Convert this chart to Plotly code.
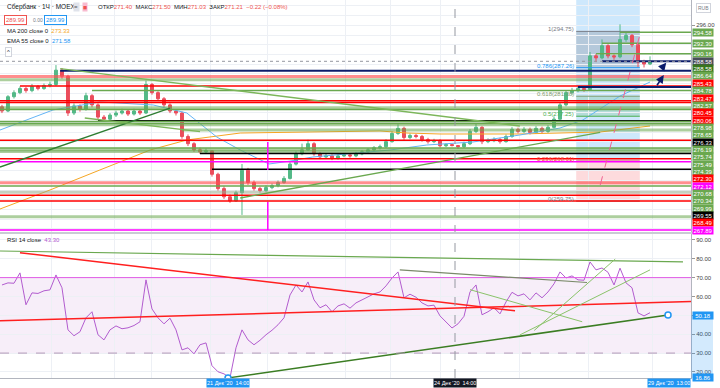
import plotly.graph_objects as go

# ---------------- data ----------------
first_open = 279.2
closes = [
    278.33, 281.28, 282.12, 282.96, 282.54, 283.38, 282.96, 283.59, 283.80, 286.75,
    285.49, 277.91, 279.38, 278.75, 281.49, 279.59, 277.07, 276.65, 277.49, 277.91,
    278.33, 277.70, 278.33, 277.91, 283.80, 282.12, 280.86, 279.59, 278.33, 277.91,
    273.07, 271.59, 270.33, 269.91, 270.12, 265.28, 262.33, 260.64, 259.80, 261.49,
    266.12, 263.59, 262.33, 261.91, 262.54, 262.96, 263.59, 264.43, 267.38, 269.49,
    270.33, 271.59, 269.49, 268.86, 269.07, 268.64, 269.07, 269.28, 269.07, 269.49,
    269.91, 270.33, 270.75, 270.96, 272.01, 273.70, 274.75, 272.86, 273.28, 273.07,
    272.43, 272.01, 272.22, 271.17, 271.40, 271.21, 270.96, 271.59, 274.12, 274.96,
    272.01, 272.22, 272.43, 272.01, 273.07, 274.54, 274.12, 274.54, 273.91, 274.75,
    274.12, 274.96, 276.65, 279.59, 282.12, 282.54, 282.96, 282.75, 289.70, 289.28,
    291.80, 289.70, 289.49, 293.07, 293.91, 292.01, 288.43, 288.01, 288.58]
highs = [
    279.6, 281.6, 282.6, 283.4, 283.3, 283.9, 283.7, 284.0, 284.4, 287.8,
    287.2, 285.8, 279.9, 279.7, 282.1, 281.8, 279.9, 277.5, 277.9, 278.4,
    278.8, 278.7, 278.8, 278.6, 284.6, 284.1, 282.4, 281.2, 279.9, 278.7,
    278.2, 273.5, 271.9, 270.8, 270.6, 270.3, 265.6, 262.8, 261.1, 261.9,
    267.4, 266.6, 264.0, 262.7, 263.0, 263.4, 264.0, 264.9, 267.8, 270.0,
    271.6, 272.4, 271.9, 269.9, 269.5, 269.4, 269.5, 269.7, 269.6, 269.9,
    270.3, 270.7, 271.1, 271.4, 272.5, 274.2, 275.6, 275.1, 273.7, 273.6,
    273.4, 272.8, 272.6, 272.5, 271.7, 271.50, 271.3, 272.0, 274.6, 275.8,
    275.2, 272.7, 272.9, 272.8, 273.5, 275.0, 274.9, 275.0, 274.9, 275.2,
    275.1, 275.4, 277.2, 280.1, 282.6, 283.1, 283.4, 283.3, 290.5, 290.1,
    293.1, 292.1, 290.0, 296.2, 294.6, 294.2, 292.4, 288.9, 289.6]
lows = [
    277.9, 278.1, 280.9, 281.8, 282.1, 282.2, 282.6, 282.7, 283.2, 283.5,
    285.0, 277.3, 277.5, 278.2, 278.4, 279.1, 276.6, 276.2, 276.3, 277.1,
    277.6, 277.3, 277.4, 277.5, 277.7, 281.7, 280.4, 279.1, 277.9, 277.4,
    272.6, 271.1, 269.9, 269.5, 269.6, 264.8, 261.9, 260.2, 259.4, 259.6,
    256.9, 263.1, 261.9, 261.5, 261.6, 262.2, 262.6, 263.3, 264.2, 267.1,
    269.2, 270.1, 269.1, 268.4, 268.5, 268.2, 268.3, 268.8, 268.7, 268.8,
    269.2, 269.6, 270.0, 270.4, 270.7, 271.8, 273.4, 272.4, 272.5, 272.7,
    272.0, 271.6, 271.7, 270.8, 270.9, 271.03, 270.5, 270.7, 271.3, 273.8,
    271.5, 271.7, 271.9, 271.6, 271.8, 272.8, 273.7, 273.8, 273.5, 273.6,
    273.7, 273.8, 274.7, 276.3, 279.3, 281.7, 282.2, 282.3, 282.5, 288.4,
    289.0, 289.2, 288.9, 289.2, 292.6, 291.5, 287.4, 287.3, 287.8]
opens = [first_open] + closes[:-1]
bars = list(range(len(closes)))

rsi_values = [
    66.1, 67.2, 67.0, 72.5, 55.6, 61.9, 61.6, 63.0, 63.5, 71.4,
    64.6, 42.3, 39.2, 41.3, 48.7, 51.9, 39.7, 37.0, 42.3, 44.4,
    42.9, 43.4, 44.6, 46.6, 68.8, 53.4, 48.7, 45.5, 48.5, 42.3,
    31.7, 32.8, 29.6, 34.4, 35.4, 23.3, 20.1, 19.0, 16.86, 32.8,
    42.3, 37.0, 34.4, 36.8, 39.7, 42.1, 45.0, 48.7, 60.8, 66.1,
    62.4, 67.7, 58.2, 54.0, 55.6, 51.9, 55.0, 56.1, 53.8, 56.6,
    58.2, 59.8, 61.4, 62.4, 65.6, 69.8, 73.0, 59.3, 61.2, 59.6,
    56.6, 55.0, 55.4, 49.7, 46.6, 43.30, 45.5, 49.5, 62.4, 66.1,
    50.3, 51.9, 54.0, 50.8, 57.1, 62.2, 60.3, 61.4, 58.2, 61.9,
    59.3, 62.4, 66.7, 73.0, 69.8, 70.9, 68.8, 68.6, 78.3, 74.1,
    75.1, 72.8, 66.1, 75.0, 67.2, 64.6, 51.3, 49.7, 51.4]

ema55_bars = [-0.33, 8.5, 16.3, 25.2, 30.8, 35.8, 39.7, 44.5, 48.0, 51.8,
              59.2, 64.7, 70.8, 78.5, 86.3, 93.0, 96.8, 103.0, 108.0]
ema55_values = [274.41, 278.54, 280.19, 279.57, 277.92, 272.97, 270.29, 267.4, 268.0, 268.85,
                269.67, 270.29, 271.32, 271.94, 273.38, 274.82, 276.47, 281.42, 284.31]
ma200_bars = [-0.33, 8, 16.3, 24.7, 30.8, 39.7, 63, 67.5, 73, 86.3, 99.7, 108]
ma200_values = [258.12, 262.04, 266.16, 270.29, 272.35, 273.79, 274.21, 273.79, 273.59, 273.59, 274.0, 275.24]

# horizontal levels drawn on the price pane
level_prices = [294.58, 292.30, 290.16, 288.58, 286.64, 285.43, 284.78, 283.47, 283.30, 282.57,
                280.45, 280.06, 278.98, 278.65, 276.33, 276.19, 275.74, 275.49, 274.39, 272.30,
                270.68, 270.34, 269.99, 269.55, 268.49, 267.89, 266.31, 263.55, 262.87, 261.57,
                260.95, 259.77, 256.54, 253.80]
level_start_bars = [103, 100, 99, 100, 9.7, None, None, 3, 96, 15,
                    None, None, None, None, 16, None, None, None, 30, None,
                    None, None, None, 33, None, None, 35, None, None, None,
                    None, None, None, None]
level_kinds = ["g", "g", "g", "navy", "navy", "rl", "gl", "r", "navy", "g",
               "r", "r", "gl", "g", "k", "g", "g", "gl", "gl", "r",
               "g", "gl", "gl", "k", "r", "m", "k", "rl", "g", "grey",
               "r", "r", "gl", "m"]

# price-scale badges
badge_values = [294.58, 292.30, 290.16, 288.58, 288.58, 286.64, 285.43, 284.78, 283.47, 282.57,
                280.45, 280.06, 278.98, 278.65, 276.33, 276.19, 275.74, 275.49, 274.39, 272.30,
                272.12, 270.68, 270.34, 269.99, 269.55, 268.49, 267.89]
badge_kinds = ["g", "g", "g", "last", "dg", "g", "r", "g", "r", "g",
               "r", "r", "g", "g", "k", "g", "g", "g", "g", "r",
               "m", "g", "g", "g", "k", "r", "m"]

# price trend lines: (bar0, price0, bar1, price1)
price_trends = [
    (-0.33, 266.78, 28.0, 278.93),
    (39.7, 260.39, 99.7, 273.92),
    (9.7, 287.09, 86.3, 275.24),
    (13.8, 276.89, 33.0, 274.06),
]
pink_trend = (99.7, 263.07, 106.3, 294.0)
magenta_marks = [(44.3, 271.94, 266.16), (44.3, 259.57, 253.80)]

# Fibonacci retracement
fib_low, fib_high = 259.75, 294.75
fib_ratios = [1, 0.786, 0.618, 0.5, 0.236, 0]
fib_bar_start, fib_bar_end = 95.7, 106.3

# RSI trend lines
rsi_trends = [
    (-0.33, 84.1, 113.5, 78.3, "#6aa84f", 1.2),
    (3.0, 83.2, 85.5, 52.4, "#ff1f1f", 1.5),
    (-0.33, 47.1, 114.83, 57.3, "#ff1f1f", 1.5),
    (66.3, 74.1, 97.5, 67.4, "#7a8a6a", 1.2),
    (88.7, 42.0, 102.2, 79.8, "#8bc36a", 1.0),
    (86.3, 39.6, 108.0, 74.1, "#8bc36a", 1.0),
    (78.0, 63.6, 96.7, 46.6, "#8bc36a", 1.0),
]
rsi_support = ([37.67, 111.0], [16.86, 50.18])

crosshair_bar = 75.5
last_price = 288.58

# ---------------- layout helpers ----------------
W, H = 720, 388
ML, MR, MT, MB = 0, 29, 0, 10
PW, PH = W - ML - MR, H - MT - MB
X_MIN, X_MAX = -0.33, 114.83
P_TOP, P_BOT = 301.22, 253.38
R_TOP, R_BOT = 93.1, 16.8
PRICE_PX = 232
RSI_TOP_PX = 234

def py_price(p):
    return (P_TOP - p) / (P_TOP - P_BOT) * PRICE_PX

def paper_y(px):
    return 1 - px / PH

def paper_x(px):
    return px / PW

FONT = "Liberation Sans, Arial, sans-serif"
colors = {"g": "#6aa84f", "gl": "rgba(106,168,79,0.55)", "r": "#ff0000",
          "rl": "rgba(255,82,82,0.65)", "navy": "#0b1c6b", "k": "#000000",
          "m": "#ff00ff", "grey": "rgba(150,170,140,0.55)"}
widths = {"g": 1.5, "gl": 3, "r": 1.5, "rl": 3, "navy": 2, "k": 1.5, "m": 1.5, "grey": 3}
badge_colors = {"g": "#6aa84f", "dg": "#38761d", "r": "#ff0000", "k": "#000000",
                "m": "#ff00ff", "last": "#4a4e5a"}

fig = go.Figure()

fig.add_trace(go.Candlestick(
    x=bars, open=opens, high=highs, low=lows, close=closes,
    increasing=dict(line=dict(color="#53b987", width=1), fillcolor="#53b987"),
    decreasing=dict(line=dict(color="#eb4d5c", width=1), fillcolor="#eb4d5c"),
    whiskerwidth=0, showlegend=False, hoverinfo="skip", xaxis="x", yaxis="y"))

fig.add_trace(go.Scatter(x=ma200_bars, y=ma200_values, mode="lines",
                         line=dict(color="#f5a623", width=1), showlegend=False,
                         xaxis="x", yaxis="y"))
fig.add_trace(go.Scatter(x=ema55_bars, y=ema55_values, mode="lines",
                         line=dict(color="#64b5f6", width=1), showlegend=False,
                         xaxis="x", yaxis="y"))

shapes = []
annotations = []

# fib zone backgrounds
fib_price = [fib_low + r * (fib_high - fib_low) for r in fib_ratios]
shapes.append(dict(type="rect", xref="x", yref="y", x0=fib_bar_start, x1=fib_bar_end,
                   y0=fib_price[4], y1=P_TOP, fillcolor="rgba(33,150,243,0.22)",
                   line=dict(width=0), layer="below"))
shapes.append(dict(type="rect", xref="x", yref="y", x0=fib_bar_start, x1=fib_bar_end,
                   y0=fib_price[5], y1=fib_price[4], fillcolor="rgba(242,54,69,0.18)",
                   line=dict(width=0), layer="below"))
shapes.append(dict(type="rect", xref="x", yref="y", x0=fib_bar_start, x1=fib_bar_end,
                   y0=fib_price[1], y1=fib_price[0], fillcolor="rgba(120,123,134,0.28)",
                   line=dict(width=0), layer="below"))
shapes.append(dict(type="rect", xref="x", yref="y", x0=fib_bar_start, x1=fib_bar_end,
                   y0=fib_price[3], y1=fib_price[2], fillcolor="rgba(76,175,80,0.2)",
                   line=dict(width=0), layer="below"))
fib_cols = ["#787b86", "#2196f3", "#7f9b6e", "#4caf50", "#f44336", "#787b86"]
for r, p, c in zip(fib_ratios, fib_price, fib_cols):
    shapes.append(dict(type="line", xref="x", yref="y", x0=fib_bar_start, x1=fib_bar_end,
                       y0=p, y1=p, line=dict(color=c, width=1)))
    annotations.append(dict(xref="x", yref="y", x=fib_bar_start, y=p, xanchor="right",
                            yanchor="middle", yshift=2, showarrow=False,
                            text=f"{r:g}({p:.2f})", font=dict(size=6, color=c, family=FONT)))

# level lines
for p, s, k in zip(level_prices, level_start_bars, level_kinds):
    x0 = X_MIN if s is None else s
    shapes.append(dict(type="line", xref="x", yref="y", x0=x0, x1=X_MAX, y0=p, y1=p,
                       line=dict(color=colors[k], width=widths[k])))

# current price dotted line
shapes.append(dict(type="line", xref="x", yref="y", x0=X_MIN, x1=X_MAX, y0=last_price,
                   y1=last_price, line=dict(color="#9598a1", width=1, dash="dot")))

# trend lines
trend_cols = ["#2e7d32", "#6aa84f", "#7cb65a", "#7cb65a"]
for (b0, p0, b1, p1), c in zip(price_trends, trend_cols):
    shapes.append(dict(type="line", xref="x", yref="y", x0=b0, y0=p0, x1=b1, y1=p1,
                       line=dict(color=c, width=1.3)))
b0, p0, b1, p1 = pink_trend
shapes.append(dict(type="line", xref="x", yref="y", x0=b0, y0=p0, x1=b1, y1=p1,
                   line=dict(color="#f06292", width=1, dash="dash")))
for b, pa, pb in magenta_marks:
    shapes.append(dict(type="line", xref="x", yref="y", x0=b, x1=b, y0=pa, y1=pb,
                       line=dict(color="#ff00ff", width=1.5)))

# navy arrows
for (bx, by, ax, ay) in [(110.7, 288.29, 109.8, 286.93), (110.3, 285.75, 109.0, 283.34)]:
    annotations.append(dict(xref="x", yref="y", x=bx, y=by, ax=ax, ay=ay, axref="x",
                            ayref="y", showarrow=True, arrowhead=2, arrowsize=1,
                            arrowwidth=1.6, arrowcolor="#0b1c6b", text=""))

# RSI pane
shapes.append(dict(type="rect", xref="x2", yref="y2", x0=X_MIN, x1=X_MAX, y0=30, y1=70,
                   fillcolor="rgba(156,39,176,0.08)", line=dict(width=0), layer="below"))
shapes.append(dict(type="line", xref="x2", yref="y2", x0=X_MIN, x1=X_MAX, y0=70, y1=70,
                   line=dict(color="#e05ce6", width=1)))
shapes.append(dict(type="line", xref="x2", yref="y2", x0=X_MIN, x1=X_MAX, y0=30, y1=30,
                   line=dict(color="#b49ab8", width=1, dash="dash")))
for b0, r0, b1, r1, c, w in rsi_trends:
    shapes.append(dict(type="line", xref="x2", yref="y2", x0=b0, y0=r0, x1=b1, y1=r1,
                       line=dict(color=c, width=w)))

fig.add_trace(go.Scatter(x=bars, y=rsi_values, mode="lines",
                         line=dict(color="#b25ccf", width=1), showlegend=False,
                         xaxis="x2", yaxis="y2"))
fig.add_trace(go.Scatter(x=rsi_support[0], y=rsi_support[1], mode="lines+markers",
                         line=dict(color="#3b7d23", width=1.5),
                         marker=dict(size=6, color="white", line=dict(color="#2196f3", width=1.5)),
                         showlegend=False, xaxis="x2", yaxis="y2", cliponaxis=False))

# crosshair
shapes.append(dict(type="line", xref="x", yref="paper", x0=crosshair_bar, x1=crosshair_bar,
                   y0=0, y1=1, line=dict(color="#9598a1", width=1, dash="dash")))

# pane separator
shapes.append(dict(type="line", xref="paper", yref="paper", x0=0, x1=1 + 22 / PW,
                   y0=paper_y(233), y1=paper_y(233), line=dict(color="#c9ccd4", width=2)))

# RSI scale highlight
shapes.append(dict(type="rect", xref="paper", yref="y2", x0=1.0, x1=1 + 22 / PW,
                   y0=R_BOT, y1=rsi_support[1][1], fillcolor="rgba(33,150,243,0.2)",
                   line=dict(width=0)))

# price badges (stacked to avoid overlap)
prev = -100
for v, k in zip(badge_values, badge_kinds):
    y = max(py_price(v), prev + 7.35)
    prev = y
    annotations.append(dict(xref="paper", yref="paper", x=1.0, xshift=1, y=paper_y(y),
                            xanchor="left", yanchor="middle", showarrow=False,
                            text=f"{v:.2f}", bgcolor=badge_colors[k], width=20, height=7,
                            borderpad=0, font=dict(size=6, color="white", family=FONT)))

# RSI badges
for v in rsi_support[1]:
    annotations.append(dict(xref="paper", yref="y2", x=1.0, xshift=1, y=v,
                            xanchor="left", yanchor="middle", showarrow=False,
                            text=f"{v:.2f}", bgcolor="#2196f3", width=20, height=7,
                            borderpad=0, font=dict(size=6, color="white", family=FONT)))

# time badges
time_badges = [(37.67, "21 Дек '20  14:00", "#2196f3", "center"),
               (crosshair_bar, "24 Дек '20  14:00", "#131722", "center"),
               (X_MAX, "29 Дек '20  13:00", "#2196f3", "right")]
for b, t, c, anc in time_badges:
    annotations.append(dict(xref="x2", yref="paper", x=b, y=paper_y(383), xanchor=anc,
                            yanchor="middle", showarrow=False, text=t, bgcolor=c,
                            height=8, borderpad=0, font=dict(size=5.5, color="white", family=FONT)))

# header texts
RED = "#ef5350"
annotations.append(dict(xref="paper", yref="paper", x=paper_x(5), y=paper_y(7),
                        xanchor="left", yanchor="middle", showarrow=False,
                        text="Сбербанк · 1Ч · MOEX",
                        font=dict(size=6.5, color="#131722", family=FONT)))
annotations.append(dict(xref="paper", yref="paper", x=paper_x(73), y=paper_y(7),
                        xanchor="left", yanchor="middle", showarrow=False, text="= ",
                        bgcolor="#e0e3eb", height=8, borderpad=0,
                        font=dict(size=6, color="#555", family=FONT)))
annotations.append(dict(xref="paper", yref="paper", x=paper_x(82), y=paper_y(7),
                        xanchor="left", yanchor="middle", showarrow=False, text="◼",
                        bgcolor="#f8bbd0", height=8, borderpad=0,
                        font=dict(size=5, color="#ef5350", family=FONT)))
ohlc = (f"ОТКР<span style='color:{RED}'>271.40</span>  МАКС<span style='color:{RED}'>271.50</span>  "
        f"МИН<span style='color:{RED}'>271.03</span>  ЗАКР<span style='color:{RED}'>271.21</span>  "
        f"<span style='color:{RED}'>−0.22 (−0.08%)</span>")
annotations.append(dict(xref="paper", yref="paper", x=paper_x(96), y=paper_y(7),
                        xanchor="left", yanchor="middle", showarrow=False, text=ohlc,
                        font=dict(size=6, color="#131722", family=FONT)))
annotations.append(dict(xref="paper", yref="paper", x=paper_x(4), y=paper_y(20),
                        xanchor="left", yanchor="middle", showarrow=False, text="289.99",
                        bordercolor=RED, borderwidth=1, borderpad=1, bgcolor="white",
                        font=dict(size=6, color=RED, family=FONT)))
annotations.append(dict(xref="paper", yref="paper", x=paper_x(31), y=paper_y(20),
                        xanchor="left", yanchor="middle", showarrow=False, text="0.00",
                        font=dict(size=5, color="#787b86", family=FONT)))
annotations.append(dict(xref="paper", yref="paper", x=paper_x(44), y=paper_y(20),
                        xanchor="left", yanchor="middle", showarrow=False, text="289.99",
                        bordercolor="#2196f3", borderwidth=1, borderpad=1, bgcolor="white",
                        font=dict(size=6, color="#2196f3", family=FONT)))
annotations.append(dict(xref="paper", yref="paper", x=paper_x(5), y=paper_y(31),
                        xanchor="left", yanchor="middle", showarrow=False,
                        text="MA 200 close 0  <span style='color:#f5a623'>273.33</span>",
                        font=dict(size=6, color="#131722", family=FONT)))
annotations.append(dict(xref="paper", yref="paper", x=paper_x(5), y=paper_y(41),
                        xanchor="left", yanchor="middle", showarrow=False,
                        text="EMA 55 close 0  <span style='color:#2196f3'>271.58</span>",
                        font=dict(size=6, color="#131722", family=FONT)))
annotations.append(dict(xref="paper", yref="paper", x=paper_x(5), y=paper_y(52),
                        xanchor="left", yanchor="middle", showarrow=False, text="^",
                        bordercolor="#d1d4dc", borderwidth=1, borderpad=1, bgcolor="white",
                        font=dict(size=6, color="#131722", family=FONT)))
annotations.append(dict(xref="paper", yref="paper", x=paper_x(5), y=paper_y(240),
                        xanchor="left", yanchor="middle", showarrow=False,
                        text="RSI 14 close  <span style='color:#b25ccf'>43.30</span>",
                        font=dict(size=6, color="#131722", family=FONT)))
annotations.append(dict(xref="paper", yref="paper", x=1.0, xshift=5, y=paper_y(8),
                        xanchor="left", yanchor="middle", showarrow=False, text="RUB",
                        bordercolor="#d1d4dc", borderwidth=1, borderpad=1,
                        font=dict(size=5, color="#787b86", family=FONT)))

grid_bars = [8.33, 18.83, 25, 34.67, 44.33, 57.17, 64.67, 73, 86.33, 97.83, 108.33]
GRID = "#edf0f5"

fig.update_layout(
    width=W, height=H, margin=dict(l=ML, r=MR, t=MT, b=MB),
    paper_bgcolor="white", plot_bgcolor="white", showlegend=False,
    font=dict(family=FONT, size=6, color="#555"),
    shapes=shapes, annotations=annotations,
    xaxis=dict(domain=[0, 1], range=[X_MIN, X_MAX], anchor="y", rangeslider=dict(visible=False),
               tickvals=grid_bars, showticklabels=False, showgrid=True, gridcolor=GRID,
               zeroline=False, ticks=""),
    yaxis=dict(domain=[paper_y(PRICE_PX), 1], range=[P_BOT, P_TOP], side="right", anchor="x",
               tickvals=[296], ticktext=["296.00"], ticks="outside", ticklen=3, tickcolor="#999",
               tickfont=dict(size=6, color="#444"), showgrid=False,
               minor=dict(dtick=2, tick0=0, showgrid=True, gridcolor=GRID, ticks=""),
               zeroline=False, showline=True, linecolor="#b2b5be", linewidth=1),
    xaxis2=dict(domain=[0, 1], range=[X_MIN, X_MAX], anchor="y2", matches="x",
                tickvals=grid_bars, showticklabels=False, showgrid=True, gridcolor=GRID,
                zeroline=False, showline=True, linecolor="#b2b5be", ticks=""),
    yaxis2=dict(domain=[0, paper_y(RSI_TOP_PX)], range=[R_BOT, R_TOP], side="right", anchor="x2",
                tickvals=[20, 30, 40, 50, 60, 70, 80, 90],
                ticktext=["20.00", "30.00", "40.00", "50.00", "60.00", "70.00", "80.00", "90.00"],
                ticks="outside", ticklen=3, tickcolor="#999", tickfont=dict(size=6, color="#444"),
                showgrid=True, gridcolor=GRID, zeroline=False, showline=True,
                linecolor="#b2b5be", linewidth=1),
)

fig.write_html("out.html", config={"displayModeBar": False},
               post_script="document.body.style.margin='0px';document.body.style.overflow='hidden';")
